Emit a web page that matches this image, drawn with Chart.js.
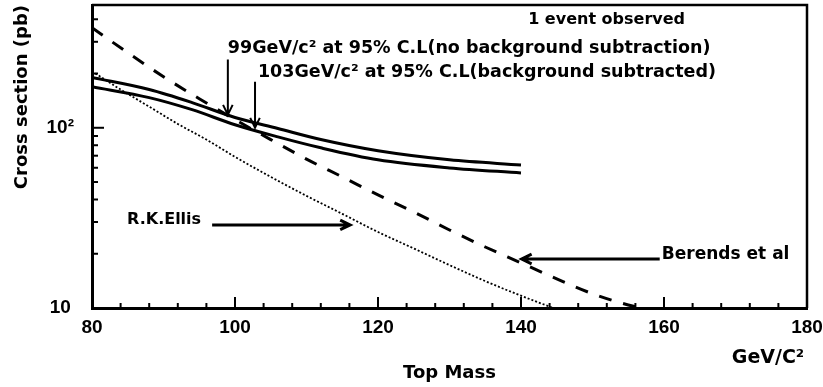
<!DOCTYPE html>
<html>
<head>
<meta charset="utf-8">
<script src="https://cdn.jsdelivr.net/npm/chart.js@4.4.1/dist/chart.umd.min.js"></script>
<style>
  body { margin: 0; background: #fff; }
</style>
</head>
<body>
<canvas id="myChart" width="823" height="387"></canvas>
<script>
// top mass limits, GeV/c2 vs pb
const massLimit = [80, 88, 94, 100, 106, 112, 120, 130, 140];
const limitNoBkg = [190, 163, 138, 114, 99, 86, 74.5, 66.4, 62.2];
const limitBkgSub = [169, 147, 126, 104, 89, 77.4, 66.4, 59.9, 56.2];

const massBerends = [80, 85, 90, 95, 100, 105, 110, 115, 120, 125, 130, 135, 140, 145, 150, 155, 157];
const berends = [359, 261, 192, 145, 111, 86, 67, 53.4, 42.4, 34.1, 27.1, 21.8, 17.8, 14.5, 12.0, 10.4, 10];

const massEllis = [80, 84, 88, 92, 96, 100, 105, 110, 115, 120, 125, 130, 135, 140, 144.5];
const ellis = [206, 163, 131, 105, 86, 69, 53.4, 41.9, 33.3, 26.4, 21.4, 17.3, 14.1, 11.7, 10];

const yTicks = [10, 100];
const yTickLabels = ["10", "10²"];
const yMinor = [20, 30, 40, 50, 60, 70, 80, 90, 200, 300, 400];
const xMinorStep = 4;

const notes = [
  { text: "1 event observed", x: 141, y: 398, size: 16 },
  { text: "99GeV/c² at 95% C.L(no background subtraction)", x: 99, y: 275, size: 17.5 },
  { text: "103GeV/c² at 95% C.L(background subtracted)", x: 103.2, y: 202, size: 17.5 },
  { text: "R.K.Ellis", x: 84.9, y: 30.8, size: 16 },
  { text: "Berends et al", x: 159.7, y: 19.7, size: 17 },
];
const arrows = [
  { from: [99, 239], to: [99, 118], w: 2 },
  { from: [102.8, 180], to: [102.8, 100], w: 2 },
  { from: [96.8, 28.9], to: [116.1, 28.9], w: 3 },
  { from: [159.4, 18.7], to: [140.1, 18.7], w: 3 },
];

function pts(xs, ys) {
  return xs.map((m, i) => ({ x: m, y: ys[i] }));
}

function drawArrow(ctx, x1, y1, x2, y2, w) {
  const ang = Math.atan2(y2 - y1, x2 - x1);
  ctx.lineWidth = w;
  ctx.beginPath();
  ctx.moveTo(x1, y1);
  ctx.lineTo(x2, y2);
  ctx.moveTo(x2 - 11 * Math.cos(ang - 0.45), y2 - 11 * Math.sin(ang - 0.45));
  ctx.lineTo(x2, y2);
  ctx.lineTo(x2 - 11 * Math.cos(ang + 0.45), y2 - 11 * Math.sin(ang + 0.45));
  ctx.stroke();
}

const annotate = {
  id: "annotate",
  afterDraw(chart) {
    const { ctx, chartArea: a, scales: { x, y } } = chart;
    ctx.save();
    ctx.strokeStyle = "#000";
    ctx.fillStyle = "#000";

    // frame top / right
    ctx.lineWidth = 2.5;
    ctx.beginPath();
    ctx.moveTo(a.left, a.top);
    ctx.lineTo(a.right, a.top);
    ctx.lineTo(a.right, a.bottom);
    ctx.stroke();

    // inward ticks
    ctx.lineWidth = 2;
    for (let m = x.min + xMinorStep; m < x.max; m += xMinorStep) {
      const px = x.getPixelForValue(m);
      const len = m % 20 === 0 ? 11 : 5;
      ctx.beginPath();
      ctx.moveTo(px, a.bottom);
      ctx.lineTo(px, a.bottom - len);
      ctx.stroke();
    }
    yTicks.concat(yMinor).forEach((v) => {
      const py = y.getPixelForValue(v);
      const len = yTicks.includes(v) ? 12 : 6;
      ctx.beginPath();
      ctx.moveTo(a.left, py);
      ctx.lineTo(a.left + len, py);
      ctx.stroke();
    });

    ctx.textBaseline = "middle";
    ctx.textAlign = "left";
    notes.forEach((n) => {
      ctx.font = "bold " + n.size + 'px "DejaVu Sans"';
      ctx.fillText(n.text, x.getPixelForValue(n.x), y.getPixelForValue(n.y));
    });

    arrows.forEach((r) => {
      drawArrow(ctx,
        x.getPixelForValue(r.from[0]), y.getPixelForValue(r.from[1]),
        x.getPixelForValue(r.to[0]), y.getPixelForValue(r.to[1]), r.w);
    });

    // unit label under the x axis end
    ctx.textAlign = "center";
    ctx.font = 'bold 19px "DejaVu Sans"';
    ctx.fillText("GeV/C²", a.right - 39, a.bottom + 50);
    ctx.restore();
  },
};

document.addEventListener("DOMContentLoaded", function () {
  const ctx = document.getElementById("myChart");
  new Chart(ctx, {
    type: "line",
    data: {
      datasets: [
        {
          label: "99 GeV no background subtraction",
          data: pts(massLimit, limitNoBkg),
          borderColor: "#000",
          borderWidth: 3,
          pointRadius: 0,
          cubicInterpolationMode: "monotone",
        },
        {
          label: "103 GeV background subtracted",
          data: pts(massLimit, limitBkgSub),
          borderColor: "#000",
          borderWidth: 3,
          pointRadius: 0,
          cubicInterpolationMode: "monotone",
        },
        {
          label: "Berends et al",
          data: pts(massBerends, berends),
          borderColor: "#000",
          borderWidth: 3,
          borderDash: [13, 12],
          pointRadius: 0,
          cubicInterpolationMode: "monotone",
        },
        {
          label: "R.K.Ellis",
          data: pts(massEllis, ellis),
          borderColor: "#000",
          borderWidth: 1.8,
          borderDash: [2, 2],
          pointRadius: 0,
          cubicInterpolationMode: "monotone",
        },
      ],
    },
    options: {
      responsive: false,
      animation: false,
      layout: { padding: { top: 5, right: 16, left: 0, bottom: 0 } },
      plugins: {
        legend: { display: false },
        tooltip: { enabled: false },
      },
      scales: {
        x: {
          type: "linear",
          min: 80,
          max: 180,
          grid: { display: false },
          border: { display: true, color: "#000", width: 3 },
          ticks: {
            stepSize: 20,
            padding: 0,
            color: "#000",
            font: { family: "Liberation Sans", weight: "bold", size: 19 },
          },
          title: {
            display: true,
            text: "Top Mass",
            color: "#000",
            font: { family: "DejaVu Sans", weight: "bold", size: 18 },
            padding: { top: 0, bottom: 3 },
          },
          afterFit(scale) {
            scale.height = 79;
            scale.paddingLeft = 0;
            scale.paddingRight = 0;
          },
        },
        y: {
          type: "logarithmic",
          min: 10,
          max: 480,
          grid: { display: false },
          border: { display: true, color: "#000", width: 3 },
          afterBuildTicks(scale) {
            scale.ticks = yTicks.map((v) => ({ value: v }));
          },
          ticks: {
            crossAlign: "center",
            padding: 10,
            color: "#000",
            font: { family: "Liberation Sans", weight: "bold", size: 19 },
            callback: (v) => yTickLabels[yTicks.indexOf(v)],
          },
          title: {
            display: true,
            text: "Cross section (pb)",
            align: "end",
            color: "#000",
            font: { family: "DejaVu Sans", weight: "bold", size: 18 },
            padding: { top: 12, bottom: 0 },
          },
          afterFit(scale) {
            scale.width = 92;
            scale.paddingTop = 0;
            scale.paddingBottom = 0;
          },
        },
      },
    },
    plugins: [annotate],
  });
});
</script>
</body>
</html>
